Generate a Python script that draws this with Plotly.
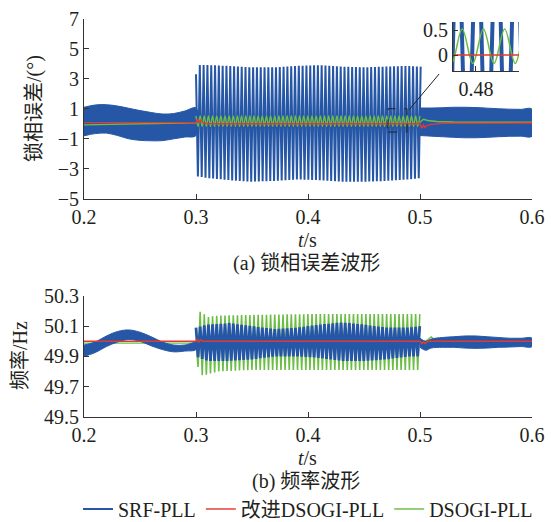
import numpy as np
import plotly.graph_objects as go

# ---------------- data ----------------
C_SRF, C_IMP, C_DSO = "#2657a7", "#e23a30", "#6cbd45"
FONT = "Liberation Serif, Times New Roman, Noto Sans CJK SC, serif"

x_ticks = [0.2, 0.3, 0.4, 0.5, 0.6]
err_ticks = [-5, -3, -1, 1, 3, 5, 7]
freq_ticks = [49.5, 49.7, 49.9, 50.1, 50.3]

# --- phase error (deg), SRF-PLL steady band envelopes
err_band1_t = [0.200, 0.210, 0.220, 0.230, 0.240, 0.250, 0.260, 0.270, 0.280, 0.290, 0.300]
err_band1_up = [1.10, 1.25, 1.27, 1.18, 1.03, 0.88, 0.75, 0.65, 0.68, 0.85, 1.05]
err_band1_lo = [-0.80, -0.65, -0.62, -0.78, -1.00, -1.10, -1.13, -1.12, -1.00, -0.88, -0.78]
err_band2_t = [0.500, 0.510, 0.520, 0.530, 0.540, 0.550, 0.560, 0.570, 0.580, 0.590, 0.600]
err_band2_up = [1.05, 1.05, 1.07, 1.10, 1.10, 1.08, 1.04, 1.00, 0.97, 0.96, 0.97]
err_band2_lo = [-0.78, -0.82, -0.86, -0.90, -0.93, -0.93, -0.90, -0.86, -0.83, -0.82, -0.82]
# SRF-PLL oscillation envelope 0.3-0.5 s
err_osc_t = [0.300, 0.302, 0.310, 0.330, 0.350, 0.370, 0.390, 0.410, 0.430, 0.450, 0.470, 0.490, 0.500]
err_osc_up = [3.30, 3.90, 3.90, 3.85, 3.75, 3.75, 3.85, 3.90, 3.80, 3.75, 3.80, 3.85, 3.80]
err_osc_lo = [-3.50, -3.50, -3.60, -3.75, -3.85, -3.80, -3.70, -3.75, -3.85, -3.85, -3.80, -3.70, -3.60]
err_srf_period = 0.0034
# DSOGI-PLL
err_dso_t1 = [0.200, 0.250, 0.300]
err_dso_v1 = [-0.07, 0.00, 0.07]
err_dso_osc_t = [0.300, 0.500]
err_dso_osc_up = [0.52, 0.52]
err_dso_osc_lo = [-0.17, -0.17]
err_dso_period = 0.0037
err_dso_t2 = [0.500, 0.503, 0.507, 0.515, 0.530, 0.600]
err_dso_v2 = [0.10, 0.30, 0.22, 0.15, 0.12, 0.10]
# improved DSOGI-PLL
err_imp_t = [0.200, 0.300, 0.301, 0.3025, 0.304, 0.3055, 0.307, 0.310, 0.320, 0.500,
             0.5015, 0.503, 0.5045, 0.506, 0.510, 0.520, 0.600]
err_imp_v = [0.08, 0.08, 0.30, 0.05, 0.28, 0.10, 0.05, 0.02, 0.00, 0.00,
             -0.30, -0.08, -0.25, -0.12, -0.04, 0.03, 0.05]

# --- frequency (Hz)
fr_band1_t = [0.200, 0.210, 0.220, 0.230, 0.240, 0.250, 0.260, 0.270, 0.280, 0.290, 0.300]
fr_band1_up = [49.975, 49.995, 50.035, 50.065, 50.075, 50.060, 50.030, 49.995, 49.975, 49.975, 49.990]
fr_band1_lo = [49.900, 49.925, 49.965, 49.995, 50.012, 50.000, 49.970, 49.945, 49.930, 49.935, 49.945]
fr_band2_t = [0.500, 0.505, 0.510, 0.520, 0.530, 0.540, 0.550, 0.560, 0.570, 0.580, 0.590, 0.600]
fr_band2_up = [50.020, 50.000, 50.015, 50.025, 50.030, 50.035, 50.035, 50.030, 50.025, 50.020, 50.020, 50.020]
fr_band2_lo = [49.960, 49.940, 49.955, 49.960, 49.960, 49.955, 49.953, 49.955, 49.960, 49.962, 49.965, 49.965]
fr_osc_t = [0.300, 0.310, 0.330, 0.350, 0.370, 0.390, 0.410, 0.430, 0.450, 0.470, 0.490, 0.500]
fr_osc_up = [50.09, 50.11, 50.12, 50.10, 50.08, 50.09, 50.11, 50.125, 50.11, 50.09, 50.09, 50.10]
fr_osc_lo = [49.90, 49.87, 49.87, 49.88, 49.90, 49.90, 49.89, 49.87, 49.87, 49.88, 49.90, 49.90]
fr_srf_period = 0.0037
fr_dso_t1 = [0.200, 0.300]
fr_dso_v1 = [49.988, 49.988]
fr_dso_osc_t = [0.300, 0.302, 0.306, 0.310, 0.320, 0.350, 0.400, 0.450, 0.500]
fr_dso_osc_up = [50.00, 50.20, 50.19, 50.16, 50.17, 50.175, 50.18, 50.18, 50.18]
fr_dso_osc_lo = [49.95, 49.82, 49.77, 49.78, 49.80, 49.81, 49.81, 49.81, 49.81]
fr_dso_period = 0.0037
fr_dso_t2 = [0.500, 0.505, 0.510, 0.513, 0.520, 0.600]
fr_dso_v2 = [49.98, 50.00, 50.03, 50.01, 50.00, 50.00]
fr_imp_t = [0.200, 0.300, 0.301, 0.3025, 0.304, 0.306, 0.500, 0.5015, 0.503, 0.5045, 0.507, 0.600]
fr_imp_v = [50.0, 50.0, 50.012, 49.995, 50.010, 50.0, 50.0, 49.985, 49.995, 49.985, 50.0, 50.0]


# ---------------- helpers ----------------
def zigzag(tk, up, lo, period):
    n = int(round((tk[-1] - tk[0]) / (period / 2)))
    ts = tk[0] + np.arange(n + 1) * period / 2
    u = np.interp(ts, tk, up)
    l = np.interp(ts, tk, lo)
    vals = np.where(np.arange(n + 1) % 2 == 0, u, l)
    return ts, vals


def band(t, up, lo):
    return list(t) + list(t[::-1]), list(up) + list(lo[::-1])


fig = go.Figure()


def add_band(t, up, lo, color, xa, ya):
    bx, by = band(t, up, lo)
    fig.add_trace(go.Scatter(x=bx, y=by, fill="toself", fillcolor=color, mode="lines",
                             line=dict(color=color, width=1, shape="spline"),
                             showlegend=False, hoverinfo="skip", xaxis=xa, yaxis=ya))


def add_line(x, y, color, width, xa, ya, name=None, legend=False, shape="linear", rank=None):
    fig.add_trace(go.Scatter(x=x, y=y, mode="lines", line=dict(color=color, width=width, shape=shape),
                             name=name, showlegend=legend, legendrank=rank,
                             hoverinfo="skip", xaxis=xa, yaxis=ya))


# ---------- top: phase error (main + inset) ----------
for xa, ya, w_srf, w_o in (("x", "y", 2.0, 1.4), ("x3", "y3", 4.0, 1.5)):
    main = xa == "x"
    add_band(err_band1_t, err_band1_up, err_band1_lo, C_SRF, xa, ya)
    add_band(err_band2_t, err_band2_up, err_band2_lo, C_SRF, xa, ya)
    zt, zv = zigzag(err_osc_t, err_osc_up, err_osc_lo, err_srf_period)
    add_line(zt, zv, C_SRF, w_srf, xa, ya, "SRF-PLL", main, rank=1)
    add_line(err_dso_t1, err_dso_v1, C_DSO, w_o, xa, ya)
    gt, gv = zigzag(err_dso_osc_t, err_dso_osc_up, err_dso_osc_lo, err_dso_period)
    add_line(gt, gv, C_DSO, w_o, xa, ya, "DSOGI-PLL", main, shape="spline", rank=3)
    add_line(err_dso_t2, err_dso_v2, C_DSO, w_o, xa, ya)
    add_line(err_imp_t, err_imp_v, C_IMP, w_o, xa, ya, "改进DSOGI-PLL", main, rank=2)

# ---------- bottom: frequency ----------
add_line(fr_dso_t1, fr_dso_v1, C_DSO, 1.3, "x2", "y2")
gt, gv = zigzag(fr_dso_osc_t, fr_dso_osc_up, fr_dso_osc_lo, fr_dso_period)
add_line(gt, gv, C_DSO, 1.6, "x2", "y2")
add_line(fr_dso_t2, fr_dso_v2, C_DSO, 1.3, "x2", "y2")
add_band(fr_band1_t, fr_band1_up, fr_band1_lo, C_SRF, "x2", "y2")
add_band(fr_band2_t, fr_band2_up, fr_band2_lo, C_SRF, "x2", "y2")
bt, bv = zigzag(fr_osc_t, fr_osc_up, fr_osc_lo, fr_srf_period)
add_line(bt, bv, C_SRF, 2.8, "x2", "y2")
add_line(fr_imp_t, fr_imp_v, C_IMP, 1.5, "x2", "y2")

# ---------------- layout ----------------
W, H = 551, 522
XD = [84 / W, 532 / W]
TICKF = dict(family=FONT, size=20, color="#231f20")
ax_common = dict(showgrid=False, zeroline=False, showline=True, linecolor="#333", linewidth=1,
                 ticks="inside", ticklen=5, tickcolor="#333", tickfont=TICKF, automargin=False)

fig.update_layout(
    width=W, height=H, margin=dict(l=0, r=0, t=0, b=0, autoexpand=False),
    paper_bgcolor="white", plot_bgcolor="white",
    font=dict(family=FONT, size=20, color="#231f20"),
    xaxis=dict(domain=XD, range=[0.2, 0.6], tickvals=x_ticks, anchor="y", **ax_common),
    yaxis=dict(domain=[1 - 199 / H, 1 - 18.5 / H], range=[-5, 7], tickvals=err_ticks,
               anchor="x", **ax_common),
    xaxis2=dict(domain=XD, range=[0.2, 0.6], tickvals=x_ticks, anchor="y2", **ax_common),
    yaxis2=dict(domain=[1 - 416.7 / H, 1 - 296 / H], range=[49.5, 50.3], tickvals=freq_ticks,
                tickformat=".1f", anchor="x2", **ax_common),
    xaxis3=dict(domain=[453 / W, 519 / W], range=[0.476, 0.4875], tickvals=[0.48],
                anchor="y3", **ax_common),
    yaxis3=dict(domain=[1 - 71 / H, 1 - 22 / H], range=[-0.32, 0.66], tickvals=[0, 0.5],
                ticktext=["0", "0.5"], anchor="x3", **ax_common),
    legend=dict(orientation="h", x=308 / W, xanchor="center", y=1 - 509 / H, yanchor="middle",
                font=dict(family=FONT, size=20, color="#231f20"), itemwidth=30,
                bgcolor="rgba(0,0,0,0)", tracegroupgap=0, borderwidth=0),
)

# dashed zoom box + connector
fig.add_shape(type="rect", xref="x", yref="y", x0=0.4714, x1=0.4884, y0=-0.55, y1=1.0,
              line=dict(color="#222", width=1, dash="dash"))
fig.add_annotation(x=0.4905, y=0.95, xref="x", yref="y", text="", showarrow=True,
                   arrowhead=0, arrowwidth=1, arrowcolor="#222", ax=31, ay=-37)

# titles / captions
ann = [
    ("锁相误差/(°)", 35 / W, 1 - 109 / H, -90),
    ("频率/Hz", 20 / W, 1 - 356 / H, -90),
    ("<i>t</i>/s", 307 / W, 1 - 240 / H, 0),
    ("(a) 锁相误差波形", 306 / W, 1 - 263 / H, 0),
    ("<i>t</i>/s", 307 / W, 1 - 458 / H, 0),
    ("(b) 频率波形", 306 / W, 1 - 481 / H, 0),
]
for txt, x, y, ang in ann:
    fig.add_annotation(text=txt, x=x, y=y, xref="paper", yref="paper", showarrow=False,
                       textangle=ang, xanchor="center", yanchor="middle",
                       font=dict(family=FONT, size=20, color="#231f20"))

fig.write_html("out.html")
